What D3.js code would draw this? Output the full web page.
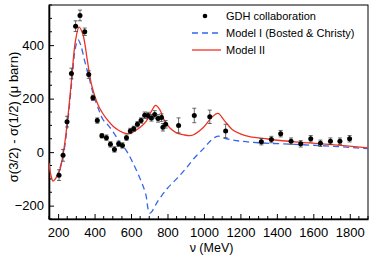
<!DOCTYPE html>
<html>
<head>
<meta charset="utf-8">
<style>
  body { margin: 0; background: white; }
  svg { font-family: 'Liberation Sans', Arial, sans-serif; }
  .err { stroke: #444; stroke-width: 0.8; }
</style>
</head>
<body>
<div id="chart"></div>
<script src="https://cdn.jsdelivr.net/npm/d3@7"></script>
<script>
// GDH collaboration points: energy (MeV), value, error
var dataE   = [205, 227, 249, 273, 296, 320, 346, 368, 391, 415, 440, 465, 487, 509, 532, 553, 575, 596, 615, 635, 655, 675, 693, 712, 730, 748, 767, 775, 790, 861, 947, 1032, 1119, 1315, 1370, 1421, 1478, 1531, 1586, 1639, 1694, 1746, 1799];
var dataVal = [-86, -12, 114, 294, 471, 511, 450, 290, 203, 118, 61, 54, 29, 10, 31, 25, 54, 79, 87, 104, 118, 138, 137, 128, 141, 126, 129, 93, 104, 100, 137, 132, 79, 39, 47, 69, 41, 31, 50, 33, 41, 41, 50];
var dataErr = [20, 22, 20, 20, 20, 20, 14, 14, 10, 10, 8, 10, 10, 10, 10, 10, 10, 10, 10, 10, 10, 12, 12, 12, 14, 14, 14, 14, 14, 28, 27, 25, 25, 12, 12, 12, 12, 12, 12, 12, 12, 12, 12];

// Model I (Bosted & Christy)
var m1E   = [190, 210, 230, 250, 273, 295, 310, 325, 346, 368, 391, 419, 446, 475, 500, 540, 575, 610, 650, 680, 703, 750, 800, 850, 900, 950, 1000, 1030, 1060, 1080, 1100, 1150, 1200, 1300, 1500, 1700, 1900];
var m1Val = [-95, -60, -5, 95, 250, 390, 420, 398, 340, 284, 222, 166, 122, 100, 78, 35, 5, -40, -100, -155, -228, -180, -135, -100, -62, -20, 15, 38, 55, 60, 55, 46, 41, 35, 29, 22, 13];

// Model II
var m2E   = [150, 160, 172, 185, 200, 210, 227, 249, 273, 295, 315, 336, 361, 383, 420, 440, 465, 500, 538, 575, 602, 647, 684, 712, 735, 757, 785, 812, 849, 894, 922, 940, 995, 1041, 1077, 1112, 1155, 1200, 1250, 1350, 1500, 1700, 1900];
var m2Val = [-40, -85, -108, -100, -80, -65, -10, 102, 265, 415, 467, 440, 340, 253, 175, 150, 125, 98, 79, 69, 72, 91, 116, 153, 175, 160, 116, 91, 72, 64, 62, 64, 91, 129, 145, 118, 85, 68, 58, 49, 38, 28, 16];

var yTicks = [-200, 0, 200, 400];
var xTicks = [200, 400, 600, 800, 1000, 1200, 1400, 1600, 1800];

var W = 374, H = 264;
var margin = {top: 5, right: 6, bottom: 45, left: 49};
var width = W - margin.left - margin.right,
    height = H - margin.top - margin.bottom;

var svg = d3.select("#chart").append("svg")
    .attr("width", W).attr("height", H);
var g = svg.append("g")
    .attr("transform", "translate(" + margin.left + "," + margin.top + ")");

var x = d3.scaleLinear().domain([150, 1900]).range([0, width]);
var y = d3.scaleLinear().domain([-250, 550]).range([height, 0]);

g.append("clipPath").attr("id", "clip")
  .append("rect").attr("width", width).attr("height", height);

// frame
g.append("rect")
    .attr("width", width).attr("height", height)
    .attr("fill", "none").attr("stroke", "#000").attr("stroke-width", 1);

// axes with inward ticks
var xMinor = d3.range(150, 1901, 50).filter(function(d) { return d % 200 != 0; });
var yMinor = d3.range(-250, 551, 50).filter(function(d) { return d % 200 != 0; });

var xAxis = g.append("g").attr("transform", "translate(0," + height + ")");
xAxis.call(d3.axisBottom(x).tickValues(xTicks).tickFormat(d3.format("d"))
    .tickSizeInner(-5).tickSizeOuter(0).tickPadding(9));
xAxis.append("g").selectAll("line").data(xMinor).enter().append("line")
    .attr("x1", x).attr("x2", x).attr("y1", 0).attr("y2", -3).attr("stroke", "#000");

var yAxis = g.append("g");
yAxis.call(d3.axisLeft(y).tickValues(yTicks).tickFormat(d3.format("d"))
    .tickSizeInner(-5).tickSizeOuter(0).tickPadding(5));
yAxis.append("g").selectAll("line").data(yMinor).enter().append("line")
    .attr("y1", y).attr("y2", y).attr("x1", 0).attr("x2", 3).attr("stroke", "#000");

[xAxis, yAxis].forEach(function(a) {
  a.select(".domain").attr("stroke-width", 1.6);
  a.selectAll(".tick line").attr("stroke-width", 1);
  a.selectAll(".tick text").attr("font-size", 13).attr("fill", "#000")
    .attr("font-family", "'Liberation Sans', Arial, sans-serif");
});

// curves
var plot = g.append("g").attr("clip-path", "url(#clip)");

function pairs(xs, ys) { return xs.map(function(d, i) { return [d, ys[i]]; }); }
var line = d3.line()
    .x(function(d) { return x(d[0]); })
    .y(function(d) { return y(d[1]); })
    .curve(d3.curveCatmullRom.alpha(0.5));

plot.append("path")
    .datum(pairs(m1E, m1Val))
    .attr("fill", "none")
    .attr("stroke", "#3366ee")
    .attr("stroke-width", 1.3)
    .attr("stroke-dasharray", "6,4")
    .attr("d", line);

plot.append("path")
    .datum(pairs(m2E, m2Val))
    .attr("fill", "none")
    .attr("stroke", "#ee3322")
    .attr("stroke-width", 1.3)
    .attr("d", line);

// data points with error bars
var pts = plot.selectAll(".pt")
  .data(dataE.map(function(d, i) { return {e: d, v: dataVal[i], s: dataErr[i]}; }))
  .enter().append("g");

pts.append("line").attr("class", "err")
    .attr("x1", function(d) { return x(d.e); }).attr("x2", function(d) { return x(d.e); })
    .attr("y1", function(d) { return y(d.v - d.s); }).attr("y2", function(d) { return y(d.v + d.s); });
pts.append("line").attr("class", "err")
    .attr("x1", function(d) { return x(d.e) - 2; }).attr("x2", function(d) { return x(d.e) + 2; })
    .attr("y1", function(d) { return y(d.v - d.s); }).attr("y2", function(d) { return y(d.v - d.s); });
pts.append("line").attr("class", "err")
    .attr("x1", function(d) { return x(d.e) - 2; }).attr("x2", function(d) { return x(d.e) + 2; })
    .attr("y1", function(d) { return y(d.v + d.s); }).attr("y2", function(d) { return y(d.v + d.s); });
pts.append("circle")
    .attr("cx", function(d) { return x(d.e); })
    .attr("cy", function(d) { return y(d.v); })
    .attr("r", 2.5).attr("fill", "#000");

// legend
var leg = svg.append("g").attr("font-size", 11);
leg.append("circle").attr("cx", 205).attr("cy", 16).attr("r", 2.3).attr("fill", "#000");
leg.append("text").attr("x", 226).attr("y", 20).text("GDH collaboration");
leg.append("line").attr("x1", 192).attr("x2", 221).attr("y1", 33).attr("y2", 33)
    .attr("stroke", "#3366ee").attr("stroke-width", 1.3).attr("stroke-dasharray", "6,4");
leg.append("text").attr("x", 226).attr("y", 37).text("Model I (Bosted & Christy)");
leg.append("line").attr("x1", 192).attr("x2", 221).attr("y1", 50).attr("y2", 50)
    .attr("stroke", "#ee3322").attr("stroke-width", 1.3);
leg.append("text").attr("x", 226).attr("y", 54).text("Model II");

// axis titles
svg.append("text")
    .attr("x", margin.left + width / 2 + 3).attr("y", 252)
    .attr("text-anchor", "middle").attr("font-size", 12.5)
    .text("ν (MeV)");
svg.append("text")
    .attr("transform", "translate(18," + 117 + ") rotate(-90)")
    .attr("text-anchor", "middle").attr("font-size", 13)
    .text("σ(3/2) - σ(1/2) (μ barn)");
</script>
</body>
</html>
